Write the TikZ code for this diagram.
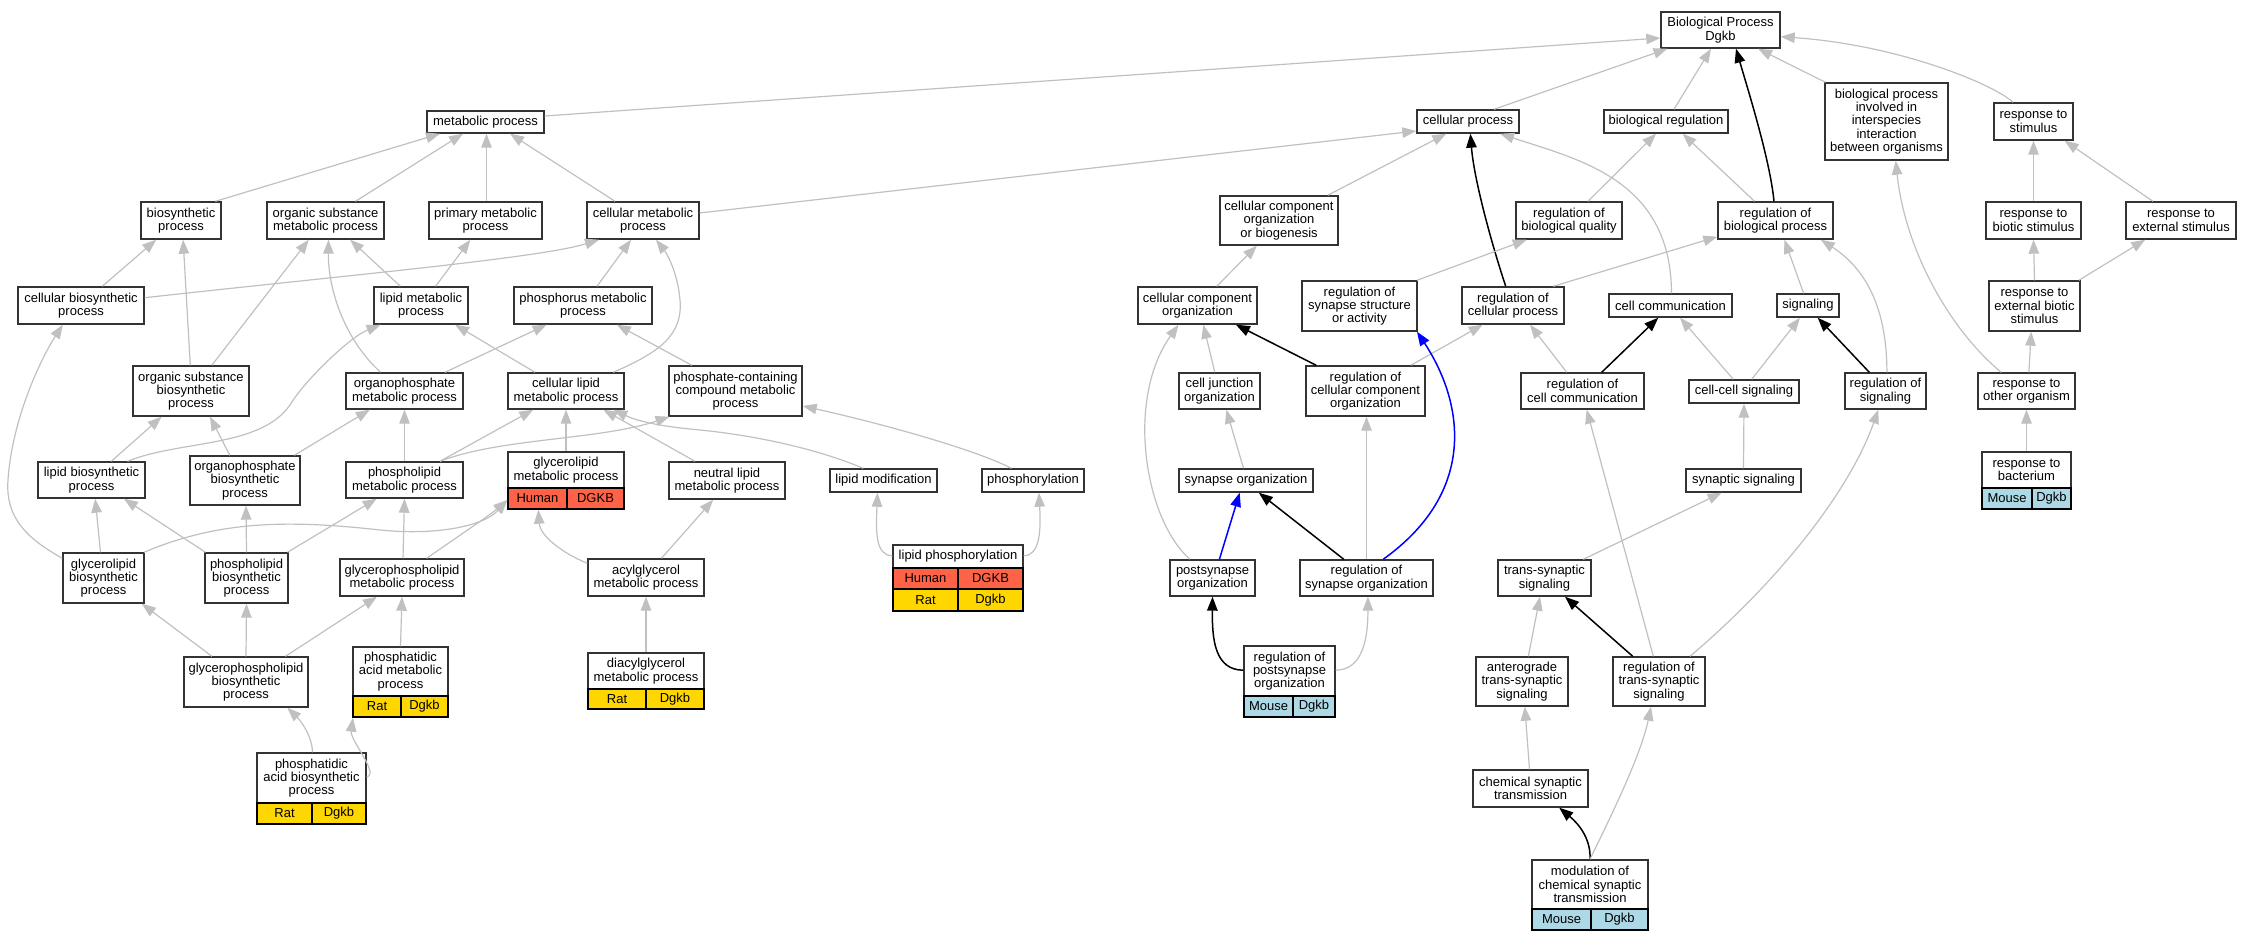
\documentclass[tikz,border=0pt]{standalone}
\usepackage{fontspec}
\setmainfont{Liberation Sans}
\usetikzlibrary{arrows.meta}
\definecolor{edgegray}{HTML}{C0C0C0}
\definecolor{boxline}{HTML}{333333}
\definecolor{hum}{HTML}{FF6347}
\definecolor{rat}{HTML}{FFD700}
\definecolor{mouse}{HTML}{ADD8E6}
\newcommand\gofont{\fontsize{13}{13.3}\selectfont}
\tikzset{
  gobox/.style={draw=boxline, line width=1.4pt, fill=white, inner sep=0pt, align=center, font=\gofont},
  gotext/.style={inner sep=0pt, align=center, font=\gofont},
  cellbox/.style={draw=black, line width=1.4pt, inner sep=0pt, font=\gofont},
  gedge/.style={draw=edgegray, line width=1.2pt, -{Triangle[length=14pt,width=10.5pt]}},
  kedge/.style={draw=black, line width=1.5pt, -{Triangle[length=14pt,width=10.5pt]}},
  uedge/.style={draw=blue, line width=1.5pt, -{Triangle[length=14pt,width=10.5pt]}},
}
% name x1 y1 x2 y2 text
\newcommand\gonode[6]{\node[gobox,minimum width={(#4-#2)*1pt},minimum height={(#5-#3)*1pt}] (#1) at ({(#2+#4)/2},{(#3+#5)/2}) {#6};}
% name x1 y1 x2 y2 ydiv text
\newcommand\gospec[7]{\node[gobox,minimum width={(#4-#2)*1pt},minimum height={(#5-#3)*1pt}] (#1) at ({(#2+#4)/2},{(#3+#5)/2}) {};
  \node[gotext] (#1t) at ({(#2+#4)/2},{(#3+#6)/2}) {#7};}
% name x1 y1 x2 y2 color text
\newcommand\gocell[7]{\node[cellbox,fill=#6,minimum width={(#4-#2)*1pt},minimum height={(#5-#3)*1pt}] (#1) at ({(#2+#4)/2},{(#3+#5)/2}) {#7};}
\begin{document}
\begin{tikzpicture}[x=1pt,y=-1pt]
\useasboundingbox (0,0) rectangle (2252,941);
% ---------- nodes ----------
\gonode{BP}{1661}{12}{1780}{48}{Biological Process\\Dgkb}
\gonode{metab}{427}{111}{544}{133}{metabolic process}
\gonode{cellproc}{1417}{110}{1519}{133}{cellular process}
\gonode{bioreg}{1604}{110}{1728}{133}{biological regulation}
\gonode{inter}{1825}{83}{1948}{160}{biological process\\involved in\\interspecies\\interaction\\between organisms}
\gonode{respstim}{1994}{103}{2073}{140}{response to\\stimulus}
\gonode{biosyn}{141}{202}{221}{239}{biosynthetic\\process}
\gonode{orgsubmet}{267}{202}{384}{239}{organic substance\\metabolic process}
\gonode{primmet}{429}{202}{542}{239}{primary metabolic\\process}
\gonode{cellmet}{587}{202}{699}{239}{cellular metabolic\\process}
\gonode{ccob}{1220}{196}{1338}{245}{cellular component\\organization\\or biogenesis}
\gonode{regbioqual}{1516}{202}{1622}{239}{regulation of\\biological quality}
\gonode{regbioproc}{1718}{202}{1833}{239}{regulation of\\biological process}
\gonode{respbiotic}{1986}{202}{2081}{239}{response to\\biotic stimulus}
\gonode{respext}{2126}{202}{2236}{239}{response to\\external stimulus}
\gonode{cellbiosyn}{18}{287}{144}{324}{cellular biosynthetic\\process}
\gonode{lipidmet}{374}{287}{468}{324}{lipid metabolic\\process}
\gonode{phosmet}{514}{287}{652}{324}{phosphorus metabolic\\process}
\gonode{cco}{1138}{287}{1257}{324}{cellular component\\organization}
\gonode{regsynstruct}{1302}{281}{1417}{331}{regulation of\\synapse structure\\or activity}
\gonode{regcellproc}{1462}{287}{1564}{324}{regulation of\\cellular process}
\gonode{cellcomm}{1609}{294}{1732}{317}{cell communication}
\gonode{signaling}{1777}{294}{1839}{317}{signaling}
\gonode{respextbiotic}{1989}{281}{2080}{331}{response to\\external biotic\\stimulus}
\gonode{orgsubbiosyn}{133}{366}{249}{416}{organic substance\\biosynthetic\\process}
\gonode{orgphosmet}{346}{373}{463}{409}{organophosphate\\metabolic process}
\gonode{celllipid}{508}{373}{624}{409}{cellular lipid\\metabolic process}
\gonode{phoscont}{669}{366}{802}{416}{phosphate-containing\\compound metabolic\\process}
\gonode{celljunc}{1179}{373}{1260}{409}{cell junction\\organization}
\gonode{regccorg}{1306}{366}{1425}{416}{regulation of\\cellular component\\organization}
\gonode{regcellcomm}{1521}{373}{1644}{409}{regulation of\\cell communication}
\gonode{cellcell}{1689}{380}{1799}{403}{cell-cell signaling}
\gonode{regsig}{1845}{373}{1926}{409}{regulation of\\signaling}
\gonode{respother}{1978}{373}{2075}{409}{response to\\other organism}
\gonode{lipidbiosyn}{38}{462}{145}{498}{lipid biosynthetic\\process}
\gonode{orgphosbiosyn}{190}{456}{300}{505}{organophosphate\\biosynthetic\\process}
\gonode{phlipmet}{346}{462}{463}{498}{phospholipid\\metabolic process}
\gospec{glyclipmet}{508}{452}{624}{509}{488}{glycerolipid\\metabolic process}
\gocell{glyclipmetA}{508}{488}{567}{509}{hum}{Human}
\gocell{glyclipmetB}{567}{488}{624}{509}{hum}{DGKB}
\gonode{neutral}{669}{462}{785}{499}{neutral lipid\\metabolic process}
\gonode{lipmod}{830}{469}{937}{492}{lipid modification}
\gonode{phosph}{982}{469}{1084}{492}{phosphorylation}
\gonode{synorg}{1179}{469}{1313}{492}{synapse organization}
\gonode{synsig}{1686}{469}{1801}{492}{synaptic signaling}
\gospec{respbact}{1982}{452}{2071}{509}{488}{response to\\bacterium}
\gocell{respbactA}{1982}{488}{2032}{509}{mouse}{Mouse}
\gocell{respbactB}{2032}{488}{2071}{509}{mouse}{Dgkb}
\gonode{glyclipbiosyn}{63}{553}{144}{603}{glycerolipid\\biosynthetic\\process}
\gonode{phlipbiosyn}{205}{553}{288}{603}{phospholipid\\biosynthetic\\process}
\gonode{gpmet}{340}{559}{464}{596}{glycerophospholipid\\metabolic process}
\gonode{acylgly}{588}{559}{704}{596}{acylglycerol\\metabolic process}
\gospec{lipphos}{893}{545}{1023}{611}{568}{lipid phosphorylation}
\gocell{lipphosA}{893}{568}{958}{589}{hum}{Human}
\gocell{lipphosB}{958}{568}{1023}{589}{hum}{DGKB}
\gocell{lipphosC}{893}{589}{958}{611}{rat}{Rat}
\gocell{lipphosD}{958}{589}{1023}{611}{rat}{Dgkb}
\gonode{postsyn}{1170}{560}{1255}{596}{postsynapse\\organization}
\gonode{regsynorg}{1300}{560}{1433}{596}{regulation of\\synapse organization}
\gonode{transsyn}{1498}{560}{1591}{596}{trans-synaptic\\signaling}
\gonode{gpbiosyn}{184}{657}{308}{707}{glycerophospholipid\\biosynthetic\\process}
\gospec{pamet}{353}{647}{448}{717}{696}{phosphatidic\\acid metabolic\\process}
\gocell{pametA}{353}{696}{401}{717}{rat}{Rat}
\gocell{pametB}{401}{696}{448}{717}{rat}{Dgkb}
\gospec{diacyl}{588}{653}{704}{709}{689}{diacylglycerol\\metabolic process}
\gocell{diacylA}{588}{689}{646}{709}{rat}{Rat}
\gocell{diacylB}{646}{689}{704}{709}{rat}{Dgkb}
\gospec{regpostsyn}{1244}{646}{1335}{717}{696}{regulation of\\postsynapse\\organization}
\gocell{regpostsynA}{1244}{696}{1293}{717}{mouse}{Mouse}
\gocell{regpostsynB}{1293}{696}{1335}{717}{mouse}{Dgkb}
\gonode{antero}{1476}{657}{1568}{706}{anterograde\\trans-synaptic\\signaling}
\gonode{regtranssyn}{1613}{657}{1705}{706}{regulation of\\trans-synaptic\\signaling}
\gospec{pabiosyn}{257}{753}{366}{824}{803}{phosphatidic\\acid biosynthetic\\process}
\gocell{pabiosynA}{257}{803}{312}{824}{rat}{Rat}
\gocell{pabiosynB}{312}{803}{366}{824}{rat}{Dgkb}
\gonode{chemsyn}{1473}{770}{1588}{807}{chemical synaptic\\transmission}
\gospec{modul}{1532}{860}{1648}{930}{909}{modulation of\\chemical synaptic\\transmission}
\gocell{modulA}{1532}{909}{1591}{930}{mouse}{Mouse}
\gocell{modulB}{1591}{909}{1648}{930}{mouse}{Dgkb}
% ---------- edges: top ----------
\draw[gedge] ([yshift=6pt]metab.east) -- ([yshift=-8pt]BP.west);
\draw[gedge] ([xshift=26pt]cellproc.north) -- ([xshift=-53pt]BP.south);
\draw[gedge] ([xshift=8pt]bioreg.north) -- ([xshift=-9.5pt]BP.south);
\draw[kedge] ([xshift=-1.5pt]regbioproc.north) .. controls (1770,160) and (1748,90) .. ([xshift=15.5pt]BP.south);
\draw[gedge] ([xshift=-61pt]inter.north) -- ([xshift=37.5pt]BP.south);
\draw[gedge] ([xshift=-20.5pt]respstim.north) .. controls (1995,85) and (1900,45) .. ([yshift=-6.7pt]BP.east);
\draw[gedge] ([xshift=34.4pt]biosyn.north) -- ([xshift=-45.5pt]metab.south);
\draw[gedge] ([xshift=30pt]orgsubmet.north) -- ([xshift=-22.5pt]metab.south);
\draw[gedge] ([xshift=1pt]primmet.north) -- ([xshift=1pt]metab.south);
\draw[gedge] ([xshift=-28pt]cellmet.north) -- ([xshift=24.5pt]metab.south);
\draw[gedge] ([yshift=7.5pt]cellmet.east) -- ([yshift=-9.5pt]cellproc.west);
\draw[gedge] ([xshift=48.7pt]ccob.north) -- ([xshift=-21.7pt]cellproc.south);
\draw[kedge] ([xshift=-7.3pt]regcellproc.north) .. controls (1492,245) and (1474,180) .. ([xshift=2.4pt]cellproc.south);
\draw[gedge] ([xshift=1pt]cellcomm.north) .. controls (1671,180) and (1580,160) .. ([xshift=32pt]cellproc.south);
\draw[gedge] ([xshift=19pt]regbioqual.north) -- ([xshift=-10pt]bioreg.south);
\draw[gedge] ([xshift=-21pt]regbioproc.north) -- ([xshift=16.6pt]bioreg.south);
\draw[gedge] ([xshift=40.3pt]regcellproc.north) -- ([yshift=-16.2pt]regbioproc.west);
\draw[gedge] ([xshift=57.5pt]regsynstruct.north) -- ([xshift=-42.3pt]regbioqual.south);
\draw[gedge] ([xshift=-4.4pt]signaling.north) -- ([xshift=8.9pt]regbioproc.south);
\draw[gedge] ([xshift=1.4pt]regsig.north) .. controls (1887,300) and (1860,265) .. ([xshift=45.3pt]regbioproc.south);
% ---------- edges: middle right ----------
\draw[gedge] ([xshift=19.2pt]cco.north) -- ([xshift=-22.1pt]ccob.south);
\draw[gedge] ([xshift=-22.5pt]postsyn.north) .. controls (1145,520) and (1125,400) .. ([xshift=-19pt]cco.south);
\draw[gedge] ([xshift=-4.7pt]celljunc.north) -- ([xshift=5.8pt]cco.south);
\draw[kedge] ([xshift=-49.3pt]regccorg.north) -- ([xshift=38.4pt]cco.south);
\draw[gedge] ([xshift=45.3pt]regccorg.north) -- ([xshift=-30.3pt]regcellproc.south);
\draw[gedge] ([xshift=-15.8pt]regcellcomm.north) -- ([xshift=17pt]regcellproc.south);
\draw[kedge] ([xshift=19.2pt]regcellcomm.north) -- ([xshift=-12.2pt]cellcomm.south);
\draw[gedge] ([xshift=-10.7pt]cellcell.north) -- ([xshift=9.5pt]cellcomm.south);
\draw[gedge] ([xshift=7.7pt]cellcell.north) -- ([xshift=-8pt]signaling.south);
\draw[kedge] ([xshift=-16.2pt]regsig.north) -- ([xshift=9.7pt]signaling.south);
\draw[gedge] (synsig.north) -- (cellcell.south);
\draw[gedge] ([xshift=38.8pt]transsyn.north) -- ([xshift=-21.8pt]synsig.south);
\draw[kedge] ([xshift=-26.3pt]regtranssyn.north) -- ([xshift=20.5pt]transsyn.south);
\draw[gedge] ([xshift=-5.7pt]regtranssyn.north) -- ([xshift=4.2pt]regcellcomm.south);
\draw[gedge] ([xshift=31pt]regtranssyn.north) .. controls (1780,580) and (1850,490) .. ([xshift=-7.2pt]regsig.south);
\draw[gedge] ([xshift=6.3pt]antero.north) -- ([xshift=-4.5pt]transsyn.south);
\draw[gedge] ([xshift=-1pt]chemsyn.north) -- ([xshift=2.8pt]antero.south);
\draw[kedge] (modul.north) .. controls (1591,840) and (1580,825) .. ([xshift=28.7pt]chemsyn.south);
\draw[gedge] (modul.north) .. controls (1600,838) and (1640,760) .. ([xshift=-8pt]regtranssyn.south);
\draw[kedge] ([yshift=11.3pt]regpostsyn.west) .. controls (1215,670) and (1212,640) .. (postsyn.south);
\draw[gedge] ([yshift=11.3pt]regpostsyn.east) .. controls (1362,670) and (1368,640) .. ([xshift=1.4pt]regsynorg.south);
\draw[uedge] ([xshift=6.9pt]postsyn.north) -- ([xshift=-6.3pt]synorg.south);
\draw[kedge] ([xshift=-22.7pt]regsynorg.north) -- ([xshift=12.8pt]synorg.south);
\draw[uedge] ([xshift=16.7pt]regsynorg.north) .. controls (1480,490) and (1462,400) .. ([xshift=57.5pt]regsynstruct.south);
\draw[gedge] (regsynorg.north) -- ([xshift=1pt]regccorg.south);
\draw[gedge] ([xshift=-2.5pt]synorg.north) -- ([xshift=6.8pt]celljunc.south);
% ---------- edges: response ----------
\draw[gedge] (respbiotic.north) -- (respstim.south);
\draw[gedge] ([xshift=-28.1pt]respext.north) -- ([xshift=31.1pt]respstim.south);
\draw[gedge] (respextbiotic.north) -- (respbiotic.south);
\draw[gedge] ([xshift=44.3pt]respextbiotic.north) -- ([xshift=-35.8pt]respext.south);
\draw[gedge] ([xshift=2.4pt]respother.north) -- ([xshift=-3.3pt]respextbiotic.south);
\draw[gedge] ([xshift=-25.3pt]respother.north) .. controls (1950,330) and (1905,250) .. ([xshift=9.2pt]inter.south);
\draw[gedge] (respbact.north) -- (respother.south);
% ---------- edges: left ----------
\draw[gedge] ([xshift=21.3pt]cellbiosyn.north) -- ([xshift=-24.8pt]biosyn.south);
\draw[gedge] ([yshift=7.8pt]cellbiosyn.east) .. controls (350,275) and (540,258) .. ([xshift=-44pt]cellmet.south);
\draw[gedge] ([xshift=-0.7pt]orgsubbiosyn.north) -- ([xshift=2.1pt]biosyn.south);
\draw[gedge] ([xshift=20.8pt]orgsubbiosyn.north) -- ([xshift=-16.7pt]orgsubmet.south);
\draw[gedge] ([xshift=-20.6pt]lipidmet.north) -- ([xshift=24.6pt]orgsubmet.south);
\draw[gedge] ([xshift=14.5pt]lipidmet.north) -- ([xshift=-15.1pt]primmet.south);
\draw[gedge] ([xshift=-23.9pt]orgphosmet.north) .. controls (345,340) and (328,290) .. ([xshift=3pt]orgsubmet.south);
\draw[gedge] ([xshift=36pt]lipidbiosyn.north) .. controls (180,440) and (260,448) .. (290,405) .. controls (305,380) and (350,337) .. ([xshift=-40.4pt]lipidmet.south);
\draw[gedge] ([xshift=-31pt]celllipid.north) -- ([xshift=34pt]lipidmet.south);
\draw[gedge] ([xshift=47.3pt]celllipid.north) .. controls (660,352) and (683,335) .. (680,300) .. controls (678,275) and (668,255) .. ([xshift=13pt]cellmet.south);
\draw[gedge] ([xshift=40.5pt]orgphosmet.north) -- ([xshift=-36.3pt]phosmet.south);
\draw[gedge] ([xshift=14pt]phosmet.north) -- ([xshift=-12pt]cellmet.south);
\draw[gedge] ([xshift=-43.7pt]phoscont.north) -- ([xshift=33.8pt]phosmet.south);
\draw[gedge] (phlipmet.north) -- (orgphosmet.south);
\draw[gedge] ([xshift=35.5pt]phlipmet.north) -- ([xshift=-32.7pt]celllipid.south);
\draw[gedge] ([xshift=35.5pt]phlipmet.north) .. controls (500,438) and (600,440) .. ([xshift=-66pt]phoscont.south);
\draw[gedge] ([xshift=49.4pt]orgphosbiosyn.north) -- ([xshift=-34.7pt]orgphosmet.south);
\draw[gedge] ([xshift=-15.2pt]orgphosbiosyn.north) -- ([xshift=19pt]orgsubbiosyn.south);
\draw[gedge] ([xshift=19.8pt]lipidbiosyn.north) -- ([xshift=-29.4pt]orgsubbiosyn.south);
\draw[gedge] (glyclipmet.north) -- (celllipid.south);
\draw[gedge] ([xshift=-32pt]neutral.north) -- ([xshift=37.3pt]celllipid.south);
\draw[gedge] ([xshift=-20.3pt]lipmod.north) .. controls (820,450) and (760,436) .. (700,430) .. controls (655,426) and (635,420) .. ([xshift=47.3pt]celllipid.south);
\draw[gedge] ([xshift=-21.6pt]phosph.north) .. controls (980,452) and (900,428) .. ([yshift=-14.9pt]phoscont.east);
\draw[gedge] ([yshift=22.3pt]lipphos.west) .. controls (875,556) and (876,530) .. ([xshift=-6pt]lipmod.south);
\draw[gedge] ([yshift=22.3pt]lipphos.east) .. controls (1040,556) and (1041,530) .. ([xshift=5.9pt]phosph.south);
\draw[gedge] ([xshift=-3pt]glyclipbiosyn.north) -- ([xshift=3.7pt]lipidbiosyn.south);
\draw[gedge] ([yshift=19.7pt]glyclipbiosyn.west) .. controls (30,540) and (5,520) .. (8,480) .. controls (12,420) and (40,360) .. ([xshift=-18.2pt]cellbiosyn.south);
\draw[gedge] ([xshift=40.5pt]glyclipbiosyn.north) .. controls (220,520) and (290,520) .. (380,530) .. controls (440,536) and (485,525) .. ([yshift=-19.5pt]glyclipmet.west);
\draw[gedge] ([xshift=24.7pt]gpmet.north) .. controls (460,535) and (490,515) .. ([yshift=-19.5pt]glyclipmet.west);
\draw[gedge] ([xshift=1pt]gpmet.north) -- (phlipmet.south);
\draw[gedge] ([xshift=-41pt]phlipbiosyn.north) -- ([xshift=32.4pt]lipidbiosyn.south);
\draw[gedge] (phlipbiosyn.north) -- ([xshift=1pt]orgphosbiosyn.south);
\draw[gedge] ([xshift=41pt]phlipbiosyn.north) -- ([xshift=-27.8pt]phlipmet.south);
\draw[gedge] ([xshift=15.4pt]acylgly.north) -- ([xshift=-13.8pt]neutral.south);
\draw[gedge] ([yshift=14.2pt]acylgly.west) .. controls (560,552) and (540,535) .. ([xshift=-27.7pt]glyclipmet.south);
\draw[gedge] (diacyl.north) -- (acylgly.south);
\draw[gedge] ([xshift=-34.1pt]gpbiosyn.north) -- ([xshift=38.3pt]glyclipbiosyn.south);
\draw[gedge] (gpbiosyn.north) -- (phlipbiosyn.south);
\draw[gedge] ([xshift=39.5pt]gpbiosyn.north) -- ([xshift=-25pt]gpmet.south);
\draw[gedge] (pamet.north) -- (gpmet.south);
\draw[gedge] ([xshift=1pt]pabiosyn.north) .. controls (312,735) and (300,720) .. ([xshift=41.3pt]gpbiosyn.south);
\draw[gedge] ([yshift=11.8pt]pabiosyn.east) .. controls (380,775) and (350,740) .. ([xshift=-47.5pt]pamet.south);
\end{tikzpicture}
\end{document}
